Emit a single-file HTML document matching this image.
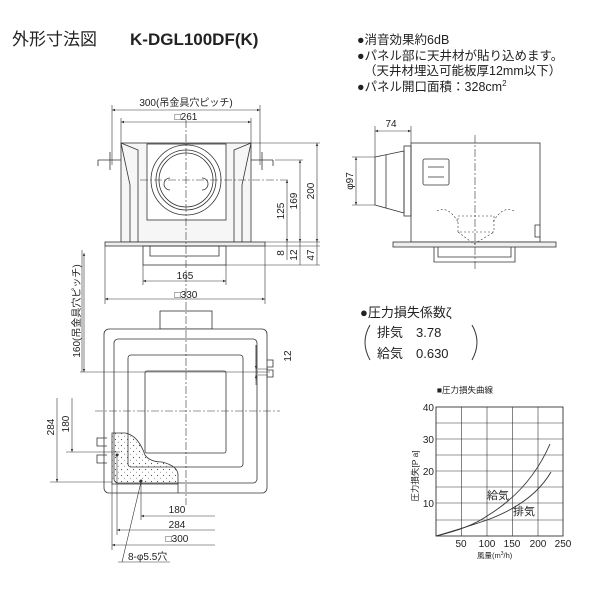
<!DOCTYPE html>
<html><head><meta charset="utf-8"><style>
html,body{margin:0;padding:0;background:#fff}
svg{display:block}
text{font-family:"Liberation Sans","Noto Sans CJK JP",sans-serif;fill:#222}
</style></head><body>
<svg width="600" height="600" viewBox="0 0 600 600" xmlns="http://www.w3.org/2000/svg">
<defs>
<marker id="a" viewBox="0 0 10 10" refX="10" refY="5" markerWidth="5" markerHeight="5" orient="auto-start-reverse"><path d="M0,1 L10,5 L0,9 z" fill="#333"/></marker>
<pattern id="dots" width="6" height="6" patternUnits="userSpaceOnUse"><circle cx="1.5" cy="1.5" r="0.6" fill="#555"/><circle cx="4.5" cy="4.2" r="0.5" fill="#777"/></pattern>
</defs>
<g font-size="17">
<text x="12" y="45">外形寸法図</text>
<text x="130" y="45" font-weight="bold">K-DGL100DF(K)</text>
</g>
<g font-size="12.5">
<text x="357" y="44">●消音効果約6dB</text>
<text x="357" y="60">●パネル部に天井材が貼り込めます。</text>
<text x="364" y="75">（天井材埋込可能板厚12mm以下）</text>
<text x="357" y="91">●パネル開口面積：328cm<tspan font-size="8" dy="-5">2</tspan></text>
</g>

<!-- TOP-LEFT VIEW -->
<g stroke="#333" fill="none" stroke-width="0.8">
<rect x="121" y="143" width="130" height="99" fill="#f6f6f6"/>
<rect x="147" y="144" width="79" height="76" fill="#fff"/>
<path d="M121,143 L130,185 L130,242 M251,143 L242,185 L242,242"/>
<path d="M121,143 L138,150 L138,242 M251,143 L234,150 L234,242"/>
<circle cx="186" cy="180" r="35" fill="#fff"/>
<circle cx="186" cy="180" r="30"/>
<circle cx="186" cy="180" r="27"/>
<path d="M170,178 a6,6 0 0,0 0,12 M202,178 a6,6 0 0,1 0,12"/>
<rect x="105" y="242" width="160" height="4" fill="#eee"/>
<rect x="143" y="246" width="83" height="19"/>
<path d="M150,246 v10 h69 v-10"/>
<path d="M98,160 h23 M251,160 h22 M98,160 v6 M273,160 v6"/>
<path d="M110,152 v18 M262,152 v18"/>
</g>
<g stroke="#333" stroke-width="0.6" fill="none" stroke-dasharray="8,2,2,2">
<path d="M186,120 V300 M140,180 H290"/>
</g>
<g stroke="#333" stroke-width="0.6" fill="none">
<path d="M112,105 V165 M260,105 V165 M121,118 V143 M251,118 V143"/>
<line x1="112" y1="110" x2="260" y2="110" marker-start="url(#a)" marker-end="url(#a)"/>
<line x1="121" y1="122" x2="251" y2="122" marker-start="url(#a)" marker-end="url(#a)"/>
<path d="M143,265 V285 M226,265 V285 M105,246 V304 M265,246 V304"/>
<line x1="143" y1="281" x2="226" y2="281" marker-start="url(#a)" marker-end="url(#a)"/>
<line x1="105" y1="299" x2="265" y2="299" marker-start="url(#a)" marker-end="url(#a)"/>
<path d="M251,143 H320 M275,160 H303 M265,242 H320 M265,246 H320 M226,265 H320"/>
<line x1="287" y1="180" x2="287" y2="242" marker-start="url(#a)" marker-end="url(#a)"/>
<line x1="300" y1="160" x2="300" y2="242" marker-start="url(#a)" marker-end="url(#a)"/>
<line x1="317" y1="143" x2="317" y2="242" marker-start="url(#a)" marker-end="url(#a)"/>
<path d="M287,242 V260 M300,242 V265 M317,242 V265"/>
</g>
<g font-size="10">
<text x="186" y="106" text-anchor="middle">300(吊金具穴ピッチ)</text>
<text x="186" y="120" text-anchor="middle">□261</text>
<text x="185" y="279" text-anchor="middle">165</text>
<text x="186" y="298" text-anchor="middle">□330</text>
<text transform="translate(284,211) rotate(-90)" text-anchor="middle">125</text>
<text transform="translate(297,201) rotate(-90)" text-anchor="middle">169</text>
<text transform="translate(314,191) rotate(-90)" text-anchor="middle">200</text>
<text transform="translate(284,253) rotate(-90)" text-anchor="middle">8</text>
<text transform="translate(297,255) rotate(-90)" text-anchor="middle">12</text>
<text transform="translate(314,255) rotate(-90)" text-anchor="middle">47</text>
</g>

<!-- RIGHT SIDE VIEW -->
<g stroke="#333" fill="none" stroke-width="0.8">
<rect x="411" y="143" width="129" height="99" fill="#fff"/>
<path d="M540,225 h-5 v12 h5"/>
<rect x="404" y="146" width="7" height="70"/>
<path d="M375,157 L404,151 V213 L375,205 Z"/>
<path d="M386,155 V208"/>
<rect x="423" y="159" width="26" height="26" rx="2"/>
<path d="M428,167 h16 M428,177 h16"/>
<rect x="393" y="242" width="163" height="5" fill="#eee"/>
<path d="M434,247 V262 H515 V247 M438,247 V257 H511 V247"/>
</g>
<g stroke="#333" stroke-width="0.6" fill="none" stroke-dasharray="2,2">
<path d="M437,211 Q448,205 458,222 M514,211 Q503,205 493,222"/>
<rect x="458" y="216" width="36" height="16"/>
<path d="M458,232 L474,244 L494,232"/>
</g>
<g stroke="#333" stroke-width="0.6" fill="none">
<path d="M475,135 V270" stroke-dasharray="8,2,2,2"/>
<path d="M375,126 V157 M411,126 V143 M352,157 H375 M352,205 H375"/>
<line x1="375" y1="131" x2="411" y2="131" marker-start="url(#a)" marker-end="url(#a)"/>
<line x1="356" y1="157" x2="356" y2="205" marker-start="url(#a)" marker-end="url(#a)"/>
</g>
<g font-size="10">
<text x="391" y="127" text-anchor="middle">74</text>
<text transform="translate(353,181) rotate(-90)" text-anchor="middle">φ97</text>
</g>

<!-- BOTTOM-LEFT VIEW -->
<g stroke="#333" fill="none" stroke-width="0.8">
<rect x="160" y="311" width="52" height="18" fill="#fff"/>
<rect x="104" y="329" width="163" height="164" rx="5" fill="#fff"/>
<rect x="114" y="339" width="143" height="144" rx="4"/>
<rect x="128" y="355" width="115" height="112" rx="3"/>
<rect x="145" y="371" width="81" height="82" rx="2"/>
<path d="M267,360 h6 v7 h-6 M267,370 h6 v7 h-6"/>
<path d="M107,438 h-10 v8 h10 M107,455 h-10 v8 h10"/>
<path d="M112,433 H125 Q138,435 145,455 Q150,462 162,462 Q178,466 178,475 V484 H112 Z" fill="url(#dots)"/>
<path d="M178,484 V493"/>
</g>
<g stroke="#333" stroke-width="0.6" fill="none" stroke-dasharray="8,2,2,2">
<path d="M186,302 V505 M95,411 H280"/>
</g>
<g stroke="#333" stroke-width="0.6" fill="none">
<path d="M80,372 H270 M82,372 V250"/>
<line x1="84" y1="253" x2="84" y2="372" marker-start="url(#a)" marker-end="url(#a)"/>
<path d="M50,482 H112 M66,452 H120 M256,345 V380 M258,369 H268 M258,375 H268"/>
<line x1="57" y1="398" x2="57" y2="482" marker-end="url(#a)"/>
<line x1="72" y1="398" x2="72" y2="452" marker-end="url(#a)"/>
<line x1="256" y1="345" x2="256" y2="369" marker-end="url(#a)"/>
<line x1="256" y1="385" x2="256" y2="375" marker-end="url(#a)"/>
<path d="M141,480 V520 M117,455 V535 M112,482 V550"/>
<line x1="215" y1="516" x2="141" y2="516" marker-end="url(#a)"/>
<line x1="215" y1="530" x2="117" y2="530" marker-end="url(#a)"/>
<line x1="215" y1="545" x2="112" y2="545" marker-end="url(#a)"/>
<path d="M141,482 L122,562 M118,562 H170"/>
</g>
<circle cx="141" cy="481" r="1.5" fill="#333"/>
<circle cx="117" cy="455" r="1.5" fill="#333"/>
<g font-size="10">
<text transform="translate(80,311) rotate(-90)" text-anchor="middle">160(吊金具穴ピッチ)</text>
<text transform="translate(54,427) rotate(-90)" text-anchor="middle">284</text>
<text transform="translate(69,424) rotate(-90)" text-anchor="middle">180</text>
<text transform="translate(291,356) rotate(-90)" text-anchor="middle">12</text>
<text x="177" y="513" text-anchor="middle">180</text>
<text x="177" y="528" text-anchor="middle">284</text>
<text x="177" y="542" text-anchor="middle">□300</text>
<text x="128" y="560">8-φ5.5穴</text>
</g>

<!-- PRESSURE -->
<g font-size="13">
<text x="360" y="317">●圧力損失係数ζ</text>
<text x="377" y="337">排気　3.78</text>
<text x="377" y="358">給気　0.630</text>
</g>
<path d="M370,325 Q360,342 370,360" stroke="#333" fill="none" stroke-width="1"/>
<path d="M472,325 Q482,342 472,360" stroke="#333" fill="none" stroke-width="1"/>

<text x="465" y="393" font-size="8.5" text-anchor="middle">■圧力損失曲線</text>
<g stroke="#333" stroke-width="0.6" fill="none">
<rect x="436" y="407" width="127" height="129" stroke-width="0.9"/>
<path d="M461.5,407V536 M487,407V536 M512.5,407V536 M538,407V536"/>
<path d="M436,423H563 M436,439H563 M436,455H563 M436,471H563 M436,487H563 M436,503H563 M436,520H563"/>
<path d="M436,536 Q470,528 487,516 Q530,490 550,444" stroke-width="0.9"/>
<path d="M436,536 Q470,526 487,520 Q533,503 551,472" stroke-width="0.9"/>
</g>
<g font-size="10">
<text x="434" y="411" text-anchor="end">40</text>
<text x="434" y="443" text-anchor="end">30</text>
<text x="434" y="475" text-anchor="end">20</text>
<text x="434" y="507" text-anchor="end">10</text>
<text x="461" y="547" text-anchor="middle">50</text>
<text x="487" y="547" text-anchor="middle">100</text>
<text x="512" y="547" text-anchor="middle">150</text>
<text x="538" y="547" text-anchor="middle">200</text>
<text x="563" y="547" text-anchor="middle">250</text>
<text x="477" y="558" font-size="7.5">風量(m<tspan font-size="5" dy="-3">3</tspan><tspan dy="3">/h)</tspan></text>
<text transform="translate(418,476) rotate(-90)" text-anchor="middle" font-size="8.5">圧力損失[P a]</text>
<text x="487" y="499" font-size="11">給気</text>
<text x="513" y="515" font-size="11">排気</text>
</g>
</svg>
</body></html>
